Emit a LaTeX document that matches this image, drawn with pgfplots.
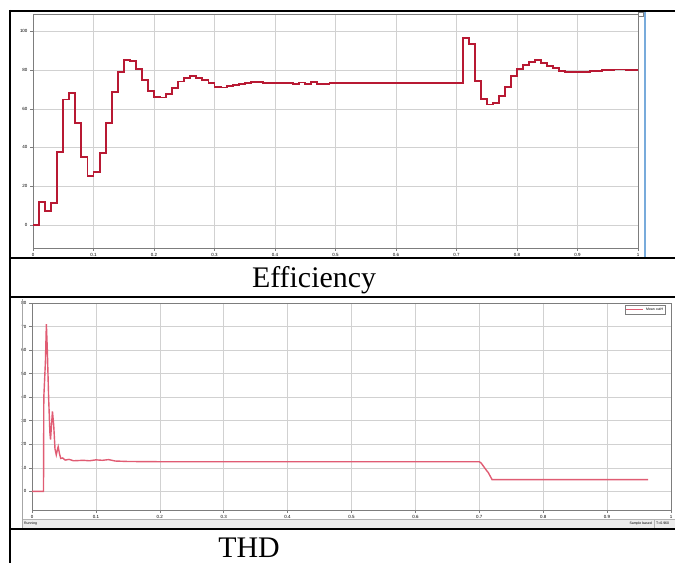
\documentclass[border=0pt]{standalone}
\usepackage{fontspec}
\setmainfont{Liberation Serif}
\newfontfamily\scopefont{Liberation Sans}
\usepackage{pgfplots}
\pgfplotsset{compat=1.18}
\definecolor{effred}{rgb}{0.72,0.10,0.20}
\definecolor{thdred}{rgb}{0.88,0.36,0.45}
\definecolor{scopegrid}{rgb}{0.82,0.82,0.82}
\definecolor{scopeaxis}{rgb}{0.49,0.49,0.49}
\definecolor{scopeblue}{rgb}{0.47,0.67,0.86}
\definecolor{statusbar}{rgb}{0.925,0.925,0.925}

% simulink-like scope look
\pgfplotsset{
  simscope/.style={
    scale only axis,
    anchor=south west,
    xmin=0, xmax=1,
    xtick={0,0.1,0.2,0.3,0.4,0.5,0.6,0.7,0.8,0.9,1},
    xticklabels={0,0.1,0.2,0.3,0.4,0.5,0.6,0.7,0.8,0.9,1},
    axis line style={scopeaxis,line width=0.6bp},
    grid=major,
    grid style={scopegrid,line width=0.5bp},
    tick style={scopeaxis,line width=0.5bp},
    tick align=outside,
    major tick length=3bp,
    xtick pos=bottom, ytick pos=left,
    ticklabel style={font=\scopefont\fontsize{4.5}{4.5}\selectfont},
    xticklabel style={yshift=1.5bp},
    yticklabel style={xshift=1bp},
    /pgf/number format/assume math mode=true,
  }
}

\begin{document}
\begin{tikzpicture}
\useasboundingbox (0,0) rectangle (675bp,563bp);

% ---- Efficiency scope ----
\begin{axis}[simscope,
  at={(33bp,315bp)},
  width=605bp, height=234bp,
  ymin=-12, ymax=109,
  ytick={0,20,40,60,80,100},
]
\addplot[effred, const plot mark left, line width=1.9bp, mark=none] coordinates {
(0,0) (0.01,11.6) (0.02,7.0) (0.03,11.2) (0.04,37.7) (0.05,64.8)
(0.06,68.2) (0.07,52.6) (0.08,34.9) (0.09,25.3) (0.10,27.5) (0.11,37.3)
(0.12,52.7) (0.13,68.7) (0.14,79.2) (0.15,85.0) (0.16,84.8) (0.17,80.6)
(0.18,74.7) (0.19,69.4) (0.20,66.0) (0.21,65.8) (0.22,67.5) (0.23,70.6)
(0.24,74.1) (0.25,76.1) (0.26,76.8) (0.27,76.0) (0.28,74.7) (0.29,73.4)
(0.30,71.3) (0.31,71.0) (0.32,71.8) (0.33,72.3) (0.34,73.0) (0.35,73.5)
(0.36,73.7) (0.38,73.4) (0.40,73.5) (0.43,72.6) (0.44,73.6) (0.45,72.8)
(0.46,74.0) (0.47,72.7) (0.49,73.2) (0.50,73.3) (0.71,96.7) (0.72,93.5)
(0.73,74.2) (0.74,65.0) (0.75,62.2) (0.76,63.0) (0.77,66.5) (0.78,71.3)
(0.79,76.8) (0.80,80.6) (0.81,82.6) (0.82,84.0) (0.83,85.0) (0.84,83.8)
(0.85,82.3) (0.86,80.9) (0.87,79.7) (0.88,78.9) (0.90,79.2) (0.92,79.7)
(0.94,80.2) (0.96,80.3) (0.98,80.0) (1.00,80.0)
};
\end{axis}

% ---- THD scope ----
\begin{axis}[simscope,
  at={(32bp,53bp)},
  width=639bp, height=207bp,
  ymin=-7.9, ymax=80,
  ytick={0,10,20,30,40,50,60,70,80},
  legend style={at={(0.992,0.99)}, anchor=north east, draw=scopeaxis,
    line width=0.4bp, font=\scopefont\fontsize{3.5}{3.5}\selectfont,
    inner sep=0.5bp, row sep=0pt},
  legend cell align=left,
]
\addplot[thdred, line width=1.4bp, mark=none] coordinates {
(0,0) (0.018,0) (0.0185,40) (0.021,55) (0.0225,71) (0.024,60) (0.026,40)
(0.028,25) (0.029,22) (0.031,30) (0.032,34) (0.034,28) (0.036,18)
(0.038,15.5) (0.040,18) (0.041,19) (0.043,16) (0.045,14) (0.048,14.2)
(0.052,13.3) (0.058,13.6) (0.065,13.0) (0.08,13.2) (0.09,13.0) (0.10,13.4)
(0.11,13.2) (0.12,13.5) (0.13,12.9) (0.15,12.7) (0.20,12.6) (0.70,12.6)
(0.703,12.0) (0.707,10.5) (0.711,9.0) (0.714,8.0) (0.717,6.5) (0.72,5.0)
(0.964,5.0)
};
\addlegendentry{Mean outH}
\end{axis}

% scope window details
\draw[scopeblue, line width=2bp] (645bp,305bp) -- (645bp,551bp);
\draw[scopeaxis, fill=white, line width=0.4bp] (638bp,547bp) rectangle (643bp,551bp);
\draw[black!35, line width=0.5bp] (22.5bp,35bp) -- (22.5bp,264bp);
\fill[statusbar] (22.5bp,35bp) rectangle (675bp,44bp);
\draw[black!30, line width=0.4bp] (22.5bp,44bp) -- (675bp,44bp);
\draw[black!30, line width=0.4bp] (654bp,35bp) -- (654bp,44bp);
\node[anchor=west, inner sep=0, font=\scopefont\fontsize{3.5}{3.5}\selectfont] at (24bp,39.5bp) {Running};
\node[anchor=east, inner sep=0, font=\scopefont\fontsize{3.5}{3.5}\selectfont] at (652bp,39.5bp) {Sample based};
\node[anchor=west, inner sep=0, font=\scopefont\fontsize{3.5}{3.5}\selectfont] at (656bp,39.5bp) {T=0.960};

% table rules
\draw[black, line width=2.5bp] (10bp,552bp) -- (675bp,552bp);
\draw[black, line width=2.5bp] (10bp,305bp) -- (675bp,305bp);
\draw[black, line width=2bp] (10bp,266bp) -- (675bp,266bp);
\draw[black, line width=2bp] (10bp,34bp) -- (675bp,34bp);
\draw[black, line width=2.5bp] (10bp,553bp) -- (10bp,0bp);

% captions
\node[font=\fontsize{30}{30}\selectfont] at (314bp,283bp) {Efficiency};
\node[font=\fontsize{30}{30}\selectfont] at (249bp,15bp) {THD};
\end{tikzpicture}
\end{document}
